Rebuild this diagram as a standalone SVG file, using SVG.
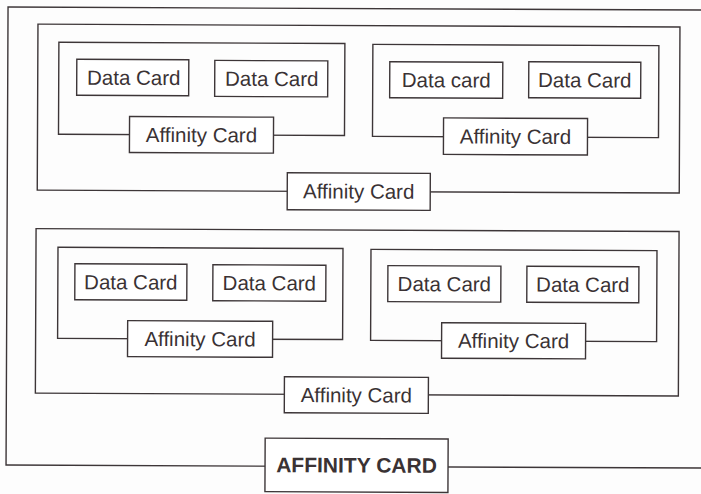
<svg xmlns="http://www.w3.org/2000/svg" width="701" height="494" viewBox="0 0 701 494">
  <style>
    .frame { fill: none; stroke: #3d3638; stroke-width: 1.4; }
    .card { fill: #ffffff; stroke: #3d3638; stroke-width: 1.4; }
    .lbl { font-family: "Liberation Sans", Arial, sans-serif; font-size: 20.5px; fill: #3a3234; text-anchor: middle; }
    .big { font-family: "Liberation Sans", Arial, sans-serif; font-size: 21px; font-weight: bold; fill: #3a3234; text-anchor: middle; }
  </style>
  <rect width="701" height="494" fill="#fdfdfd"/>
  <g transform="rotate(0.25 350 247)">
    <!-- outermost container, right side runs past the page edge -->
    <g id="root">
      <rect class="frame" x="7" y="8.5" width="710" height="458"/>
    </g>

    <!-- upper group -->
    <g id="group-top">
      <rect class="frame" x="37" y="25.5" width="642" height="166"/>
    </g>
    <g id="cluster-top-left">
      <rect class="frame" x="58" y="43.5" width="286" height="92"/>
    </g>
    <g id="data-tl-1">
      <rect class="card" x="76" y="60.5" width="112" height="36"/>
      <text class="lbl" x="133" y="85.8">Data Card</text>
    </g>
    <g id="data-tl-2">
      <rect class="card" x="214" y="61" width="113" height="36"/>
      <text class="lbl" x="271" y="86.3">Data Card</text>
    </g>
    <g id="affinity-tl">
      <rect class="card" x="129" y="117.5" width="144" height="36"/>
      <text class="lbl" x="201" y="142.8">Affinity Card</text>
    </g>
    <g id="cluster-top-right">
      <rect class="frame" x="372" y="44.3" width="286" height="92"/>
    </g>
    <g id="data-tr-1">
      <rect class="card" x="389" y="61.6" width="113" height="36"/>
      <text class="lbl" x="445.5" y="86.9">Data card</text>
    </g>
    <g id="data-tr-2">
      <rect class="card" x="528" y="61" width="112" height="36"/>
      <text class="lbl" x="584" y="86.3">Data Card</text>
    </g>
    <g id="affinity-tr">
      <rect class="card" x="443" y="117.5" width="144" height="36.5"/>
      <text class="lbl" x="515" y="143">Affinity Card</text>
    </g>
    <g id="affinity-top">
      <rect class="card" x="287" y="173" width="143" height="37"/>
      <text class="lbl" x="358.5" y="198.5">Affinity Card</text>
    </g>

    <!-- lower group -->
    <g id="group-bottom">
      <rect class="frame" x="36" y="230" width="643" height="164.5"/>
    </g>
    <g id="cluster-bottom-left">
      <rect class="frame" x="58" y="248.6" width="285" height="91"/>
    </g>
    <g id="data-bl-1">
      <rect class="card" x="75" y="265" width="112" height="36"/>
      <text class="lbl" x="131" y="290.3">Data Card</text>
    </g>
    <g id="data-bl-2">
      <rect class="card" x="213" y="265.3" width="113" height="36"/>
      <text class="lbl" x="269.5" y="290.6">Data Card</text>
    </g>
    <g id="affinity-bl">
      <rect class="card" x="128" y="321.6" width="145" height="36"/>
      <text class="lbl" x="200.5" y="346.9">Affinity Card</text>
    </g>
    <g id="cluster-bottom-right">
      <rect class="frame" x="371" y="249.3" width="286" height="91"/>
    </g>
    <g id="data-br-1">
      <rect class="card" x="388" y="265.5" width="113" height="36"/>
      <text class="lbl" x="444.5" y="290.8">Data Card</text>
    </g>
    <g id="data-br-2">
      <rect class="card" x="527" y="265.5" width="112" height="36"/>
      <text class="lbl" x="583" y="290.8">Data Card</text>
    </g>
    <g id="affinity-br">
      <rect class="card" x="442" y="322.3" width="144" height="35.5"/>
      <text class="lbl" x="514" y="347.3">Affinity Card</text>
    </g>
    <g id="affinity-bottom">
      <rect class="card" x="285" y="377" width="144" height="36"/>
      <text class="lbl" x="357" y="402.3">Affinity Card</text>
    </g>

    <!-- top-level label on the outer frame -->
    <g id="affinity-root">
      <rect class="card" x="266" y="438.5" width="183" height="53.5"/>
      <text class="big" x="357.5" y="472.5">AFFINITY CARD</text>
    </g>
  </g>
</svg>
